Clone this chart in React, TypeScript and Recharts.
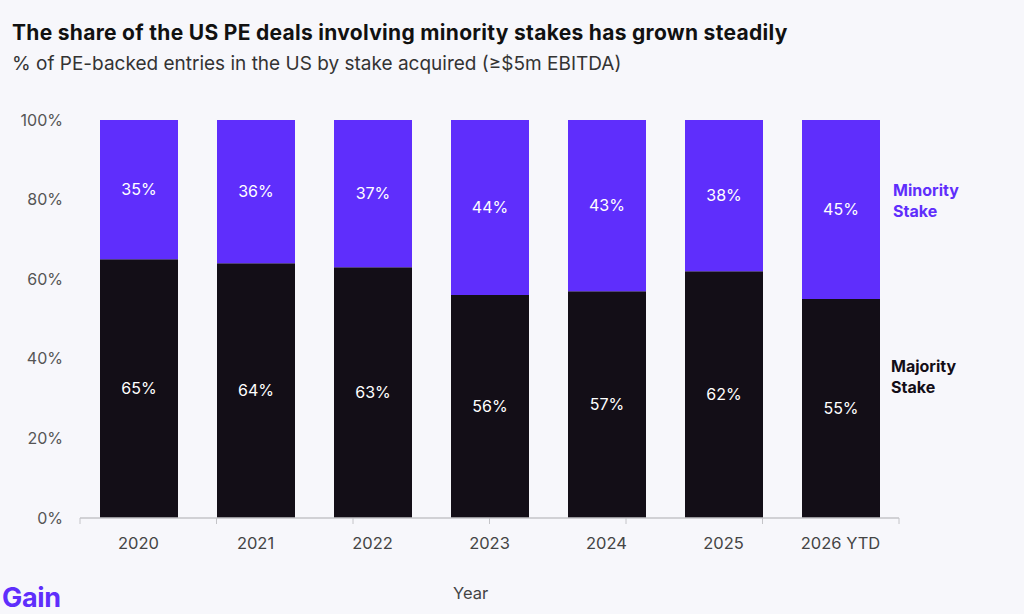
import React from "react";
import { BarChart, Bar, XAxis, YAxis, LabelList } from "recharts";

const years = ["2020", "2021", "2022", "2023", "2024", "2025", "2026 YTD"];
const majority = [65, 64, 63, 56, 57, 62, 55];
const minority = [35, 36, 37, 44, 43, 38, 45];
const yTicks = [0, 20, 40, 60, 80, 100];
const edgeTicks = [0, 1, 2, 3, 4, 5, 6, 7];

const PURPLE = "#5F2EFC";
const INK = "#130E17";
const BG = "#F7F7FB";
const FONT = "Inter, 'Liberation Sans', sans-serif";

const data = years.map((year, i) => ({
  year,
  majority: majority[i],
  minority: minority[i],
}));

const pct = (v: any) => `${v}%`;

export default function App() {
  return (
    <div
      style={{
        position: "absolute",
        left: 0,
        top: 0,
        width: 1024,
        height: 614,
        background: BG,
        fontFamily: FONT,
        overflow: "hidden",
      }}
    >
      <div
        style={{
          position: "absolute",
          left: 12,
          top: 20,
          fontSize: 21,
          fontWeight: 700,
          color: "#111",
          letterSpacing: 0.3,
          whiteSpace: "nowrap",
        }}
      >
        The share of the US PE deals involving minority stakes has grown steadily
      </div>
      <div
        style={{
          position: "absolute",
          left: 12,
          top: 52,
          fontSize: 19,
          color: "#333",
          whiteSpace: "nowrap",
        }}
      >
        % of PE-backed entries in the US by stake acquired (≥$5m EBITDA)
      </div>

      <BarChart
        width={1024}
        height={614}
        data={data}
        margin={{ top: 120, right: 125, bottom: 61, left: 20 }}
        barSize={78}
        style={{ position: "absolute", left: 0, top: 0 }}
      >
        <YAxis
          type="number"
          domain={[0, 100]}
          ticks={yTicks}
          width={60}
          axisLine={false}
          tickLine={false}
          tickSize={0}
          tickMargin={17}
          tickFormatter={pct}
          tick={{ fontSize: 16, fill: "#555", fontFamily: FONT }}
        />
        {/* category boundaries: axis line plus a short tick between years */}
        <XAxis
          xAxisId={0}
          type="number"
          domain={[0, 7]}
          allowDataOverflow
          ticks={edgeTicks}
          interval={0}
          height={1}
          tickFormatter={() => ""}
          tick={{ fontSize: 1 }}
          tickSize={6}
          tickLine={{ stroke: "#C4C4C8" }}
          axisLine={{ stroke: "#C4C4C8", strokeWidth: 1.5 }}
        />
        <XAxis
          xAxisId={1}
          dataKey="year"
          height={34}
          axisLine={false}
          tickLine={false}
          tickSize={0}
          tickMargin={18}
          interval={0}
          tick={{ fontSize: 16.5, fill: "#444", fontFamily: FONT }}
        />
        <Bar xAxisId={1} dataKey="majority" stackId="s" fill={INK} isAnimationActive={false}>
          <LabelList
            dataKey="majority"
            position="center"
            formatter={pct}
            style={{ fill: "#fff", fontSize: 16, fontFamily: FONT }}
          />
        </Bar>
        <Bar xAxisId={1} dataKey="minority" stackId="s" fill={PURPLE} isAnimationActive={false}>
          <LabelList
            dataKey="minority"
            position="center"
            formatter={pct}
            style={{ fill: "#fff", fontSize: 16, fontFamily: FONT }}
          />
        </Bar>
      </BarChart>

      <div
        style={{
          position: "absolute",
          left: 893,
          top: 180,
          fontSize: 16,
          fontWeight: 700,
          lineHeight: "21px",
          color: PURPLE,
        }}
      >
        Minority
        <br />
        Stake
      </div>
      <div
        style={{
          position: "absolute",
          left: 891,
          top: 356,
          fontSize: 16,
          fontWeight: 700,
          lineHeight: "21px",
          color: INK,
        }}
      >
        Majority
        <br />
        Stake
      </div>

      <div
        style={{
          position: "absolute",
          left: 453,
          top: 583,
          fontSize: 16.5,
          color: "#444",
        }}
      >
        Year
      </div>
      <div
        style={{
          position: "absolute",
          left: 2,
          top: 584,
          fontSize: 27,
          lineHeight: "27px",
          fontWeight: 700,
          color: PURPLE,
          letterSpacing: -0.3,
        }}
      >
        Gain
      </div>
    </div>
  );
}
